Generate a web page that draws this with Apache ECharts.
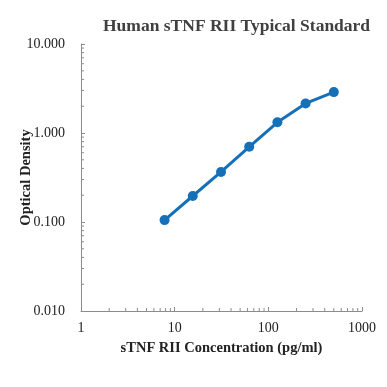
<!DOCTYPE html>
<html><head><meta charset="utf-8">
<script src="https://cdn.jsdelivr.net/npm/echarts@6/dist/echarts.min.js"></script>
<style>html,body{margin:0;padding:0;background:#fff}#c{width:387px;height:387px}</style>
</head><body><div id="c"></div>
<script>
const concentrations = [7.8, 15.6, 31.25, 62.5, 125, 250, 500];
const opticalDensity = [0.105, 0.196, 0.365, 0.70, 1.32, 2.15, 2.88];
const xTickValues = [1, 10, 100, 1000];
const yTickValues = [0.01, 0.1, 1, 10];
const titleText = 'Human sTNF RII Typical Standard';
const xName = 'sTNF RII Concentration (pg/ml)';
const yName = 'Optical Density';

// minor tick positions (2..9 per decade)
const xMinor = [], yMinor = [];
for (let d = 0; d < 3; d++) for (let k = 2; k <= 9; k++) { xMinor.push(k * Math.pow(10, d)); }
for (let d = -2; d < 1; d++) for (let k = 2; k <= 9; k++) { yMinor.push(+(k * Math.pow(10, d)).toPrecision(3)); }

const serif = '"Liberation Serif", "DejaVu Serif", serif';
const axisGray = '#8c8c8c';
const chart = echarts.init(document.getElementById('c'));
chart.setOption({
  animation: false,
  title: {
    text: titleText, left: 98, top: 12,
    textStyle: { fontFamily: serif, fontWeight: 'bold', fontSize: 17.5, color: '#404040' }
  },
  grid: { left: 81, right: 25, top: 44, bottom: 76, containLabel: false, outerBoundsMode: 'none' },
  xAxis: {
    type: 'log', logBase: 10, min: 1, max: 1000,
    name: xName, nameLocation: 'middle', nameGap: 30, nameMoveOverlap: false,
    nameTextStyle: { fontFamily: serif, fontWeight: 'bold', fontSize: 14.5, color: '#222' },
    axisLine: { show: true, lineStyle: { color: axisGray, width: 1 } },
    axisTick: { show: true, inside: true, length: 4, lineStyle: { color: axisGray } },
    axisLabel: { fontFamily: serif, fontSize: 14, color: '#222', margin: 10,
      formatter: v => String(Math.round(v)) },
    splitLine: { show: false }
  },
  yAxis: {
    type: 'log', logBase: 10, min: 0.01, max: 10,
    name: yName, nameLocation: 'middle', nameGap: 47, nameRotate: 90, nameMoveOverlap: false,
    nameTextStyle: { fontFamily: serif, fontWeight: 'bold', fontSize: 14.5, color: '#222' },
    axisLine: { show: true, lineStyle: { color: axisGray, width: 1 } },
    axisTick: { show: true, inside: true, length: 4, lineStyle: { color: axisGray } },
    axisLabel: { fontFamily: serif, fontSize: 14, color: '#222', margin: 16,
      formatter: v => Number(v).toFixed(3) },
    splitLine: { show: false }
  },
  series: [
    {
      type: 'custom',
      silent: true,
      data: xMinor.map(v => [v]),
      renderItem: (params, api) => {
        const p = api.coord([api.value(0), 0.01]);
        return { type: 'line', shape: { x1: p[0], y1: p[1], x2: p[0], y2: p[1] - 3 },
          style: { stroke: axisGray, lineWidth: 1 } };
      },
      encode: { x: 0 }
    },
    {
      type: 'custom',
      silent: true,
      data: yMinor.map(v => [1, v]),
      renderItem: (params, api) => {
        const p = api.coord([1, api.value(1)]);
        return { type: 'line', shape: { x1: p[0], y1: p[1], x2: p[0] + 3, y2: p[1] },
          style: { stroke: axisGray, lineWidth: 1 } };
      },
      encode: { x: 0, y: 1 }
    },
    {
      type: 'line',
      data: concentrations.map((c, i) => [c, opticalDensity[i]]),
      symbol: 'circle', symbolSize: 10,
      lineStyle: { color: '#1570b8', width: 3 },
      itemStyle: { color: '#1570b8' }
    }
  ]
});
</script></body></html>
